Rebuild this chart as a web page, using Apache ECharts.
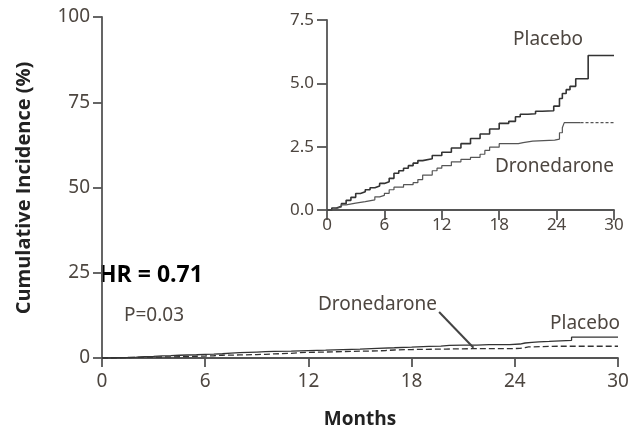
<!DOCTYPE html>
<html><head><meta charset="utf-8">
<script src="https://cdn.jsdelivr.net/npm/echarts@6/dist/echarts.min.js"></script>
<style>html,body{margin:0;padding:0;background:#fff}#c{width:631px;height:432px}</style>
</head><body><div id="c"></div>
<script>
const mainYTicks = [0, 25, 50, 75, 100];
const xTicks = [0, 6, 12, 18, 24, 30];
const insetYTicks = [0, 2.5, 5, 7.5];

const placeboMonths = [0,0.5,1,1.5,2,2.5,3,3.5,4,4.5,5,5.5,6,6.5,7,7.5,8,8.5,9,9.5,10,11,12,13,14,15,16,17,18,19,19.7,20.2,21,21.8,22.5,23.7,24.3,24.6,25,25.4,26,27.3,30];
const placeboValues = [0,0.08,0.15,0.25,0.38,0.5,0.65,0.72,0.8,0.88,0.95,1.05,1.12,1.25,1.45,1.55,1.65,1.75,1.85,1.95,2.02,2.15,2.28,2.45,2.62,2.82,3.0,3.2,3.42,3.5,3.68,3.78,3.8,3.9,3.92,4.1,4.4,4.6,4.75,4.88,5.18,6.1,6.1];

const droneMonths = [0,0.5,1,1.5,2,3,4,5,5.5,6,6.5,7,8,9,9.5,10,11,11.5,12,13,14,15,16,16.5,17,18,20,20.5,21.5,23.8,24.3,24.6,24.8,26.5];
const droneValues = [0,0.06,0.12,0.2,0.27,0.33,0.4,0.52,0.58,0.66,0.8,0.9,1.0,1.08,1.2,1.38,1.55,1.65,1.75,1.9,2.0,2.08,2.2,2.35,2.48,2.62,2.66,2.72,2.76,2.8,3.05,3.25,3.45,3.45];
const droneTailMonths = [26.5, 30];
const droneTailValues = [3.45, 3.45];

const zip = (xs, ys) => xs.map((x, i) => [x, ys[i]]);
const placebo = zip(placeboMonths, placeboValues);
const drone = zip(droneMonths, droneValues);
const droneFull = drone.concat([[30, 3.45]]);
const droneTail = zip(droneTailMonths, droneTailValues);

const axisCol = '#555';
const labelCol = '#4d4640';
const font = 'Noto Sans';

const chart = echarts.init(document.getElementById('c'), null, {renderer: 'canvas'});
chart.setOption({
  animation: false,
  backgroundColor: '#fff',
  grid: [
    {left: 102, top: 17, width: 516, height: 341, containLabel: false, outerBoundsMode: 'none'},
    {left: 327, top: 20, width: 287, height: 190, containLabel: false, outerBoundsMode: 'none'}
  ],
  xAxis: [
    {gridIndex: 0, type: 'value', min: 0, max: 30, interval: 6,
     axisLine: {lineStyle: {color: axisCol, width: 1.8}},
     axisTick: {show: true, length: 9, lineStyle: {color: axisCol, width: 1.8}},
     axisLabel: {color: labelCol, fontSize: 19, fontFamily: font, margin: 14},
     splitLine: {show: false},
     name: 'Months', nameLocation: 'middle', nameGap: 52,
     nameTextStyle: {color: '#222', fontSize: 19, fontWeight: 'bold', fontFamily: 'Open Sans'}},
    {gridIndex: 1, type: 'value', min: 0, max: 30, interval: 6,
     axisLine: {lineStyle: {color: axisCol, width: 1.8}},
     axisTick: {show: true, length: 10, lineStyle: {color: axisCol, width: 1.8}},
     axisLabel: {color: labelCol, fontSize: 17, fontFamily: font, margin: 7},
     splitLine: {show: false}}
  ],
  yAxis: [
    {gridIndex: 0, type: 'value', min: 0, max: 100, interval: 25,
     axisLine: {show: true, lineStyle: {color: axisCol, width: 1.8}},
     axisTick: {show: true, length: 9, lineStyle: {color: axisCol, width: 1.8}},
     axisLabel: {color: labelCol, fontSize: 19, fontFamily: font, margin: 12},
     splitLine: {show: false}},
    {gridIndex: 1, type: 'value', min: 0, max: 7.5, interval: 2.5,
     axisLine: {show: true, lineStyle: {color: axisCol, width: 1.8}},
     axisTick: {show: true, length: 10, lineStyle: {color: axisCol, width: 1.8}},
     axisLabel: {color: labelCol, fontSize: 17, fontFamily: font, margin: 13,
                 formatter: v => v.toFixed(1)},
     splitLine: {show: false}}
  ],
  series: [
    {type: 'line', xAxisIndex: 0, yAxisIndex: 0, step: 'end', data: placebo, symbol: 'none',
     lineStyle: {color: '#333', width: 1.3}},
    {type: 'line', xAxisIndex: 0, yAxisIndex: 0, step: 'end', data: droneFull, symbol: 'none',
     lineStyle: {color: '#333', width: 1.3, type: [6, 3]},
     markLine: {symbol: 'none', silent: true, label: {show: false},
       lineStyle: {color: '#444', width: 2, type: 'solid'},
       data: [[{coord: [19.6, 13.5]}, {coord: [21.6, 3.0]}]]}},
    {type: 'line', xAxisIndex: 1, yAxisIndex: 1, step: 'end', data: placebo, symbol: 'none',
     lineStyle: {color: '#333', width: 1.6}},
    {type: 'line', xAxisIndex: 1, yAxisIndex: 1, step: 'end', data: drone, symbol: 'none',
     lineStyle: {color: '#555', width: 1.2}},
    {type: 'line', xAxisIndex: 1, yAxisIndex: 1, data: droneTail, symbol: 'none',
     lineStyle: {color: '#555', width: 1.2, type: [3, 2]}}
  ],
  graphic: [
    {type: 'text', x: 24, y: 188, rotation: Math.PI / 2,
     style: {text: 'Cumulative Incidence (%)', fill: '#222', fontSize: 20, fontWeight: 'bold', fontFamily: 'Open Sans', align: 'center', verticalAlign: 'middle'}},
    {type: 'text', x: 99, y: 275, style: {text: 'HR = 0.71', fill: '#000', fontSize: 23, fontWeight: 'bold', fontFamily: 'Open Sans', align: 'left', verticalAlign: 'middle'}},
    {type: 'text', x: 124, y: 316, style: {text: 'P=0.03', fill: labelCol, fontSize: 19, fontFamily: font, align: 'left', verticalAlign: 'middle'}},
    {type: 'text', x: 318, y: 305, style: {text: 'Dronedarone', fill: labelCol, fontSize: 19, fontFamily: font, align: 'left', verticalAlign: 'middle'}},
    {type: 'text', x: 550, y: 324, style: {text: 'Placebo', fill: labelCol, fontSize: 19, fontFamily: font, align: 'left', verticalAlign: 'middle'}},
    {type: 'text', x: 513, y: 40, style: {text: 'Placebo', fill: labelCol, fontSize: 19, fontFamily: font, align: 'left', verticalAlign: 'middle'}},
    {type: 'text', x: 495, y: 167, style: {text: 'Dronedarone', fill: labelCol, fontSize: 19, fontFamily: font, align: 'left', verticalAlign: 'middle'}}
  ]
});
</script></body></html>
